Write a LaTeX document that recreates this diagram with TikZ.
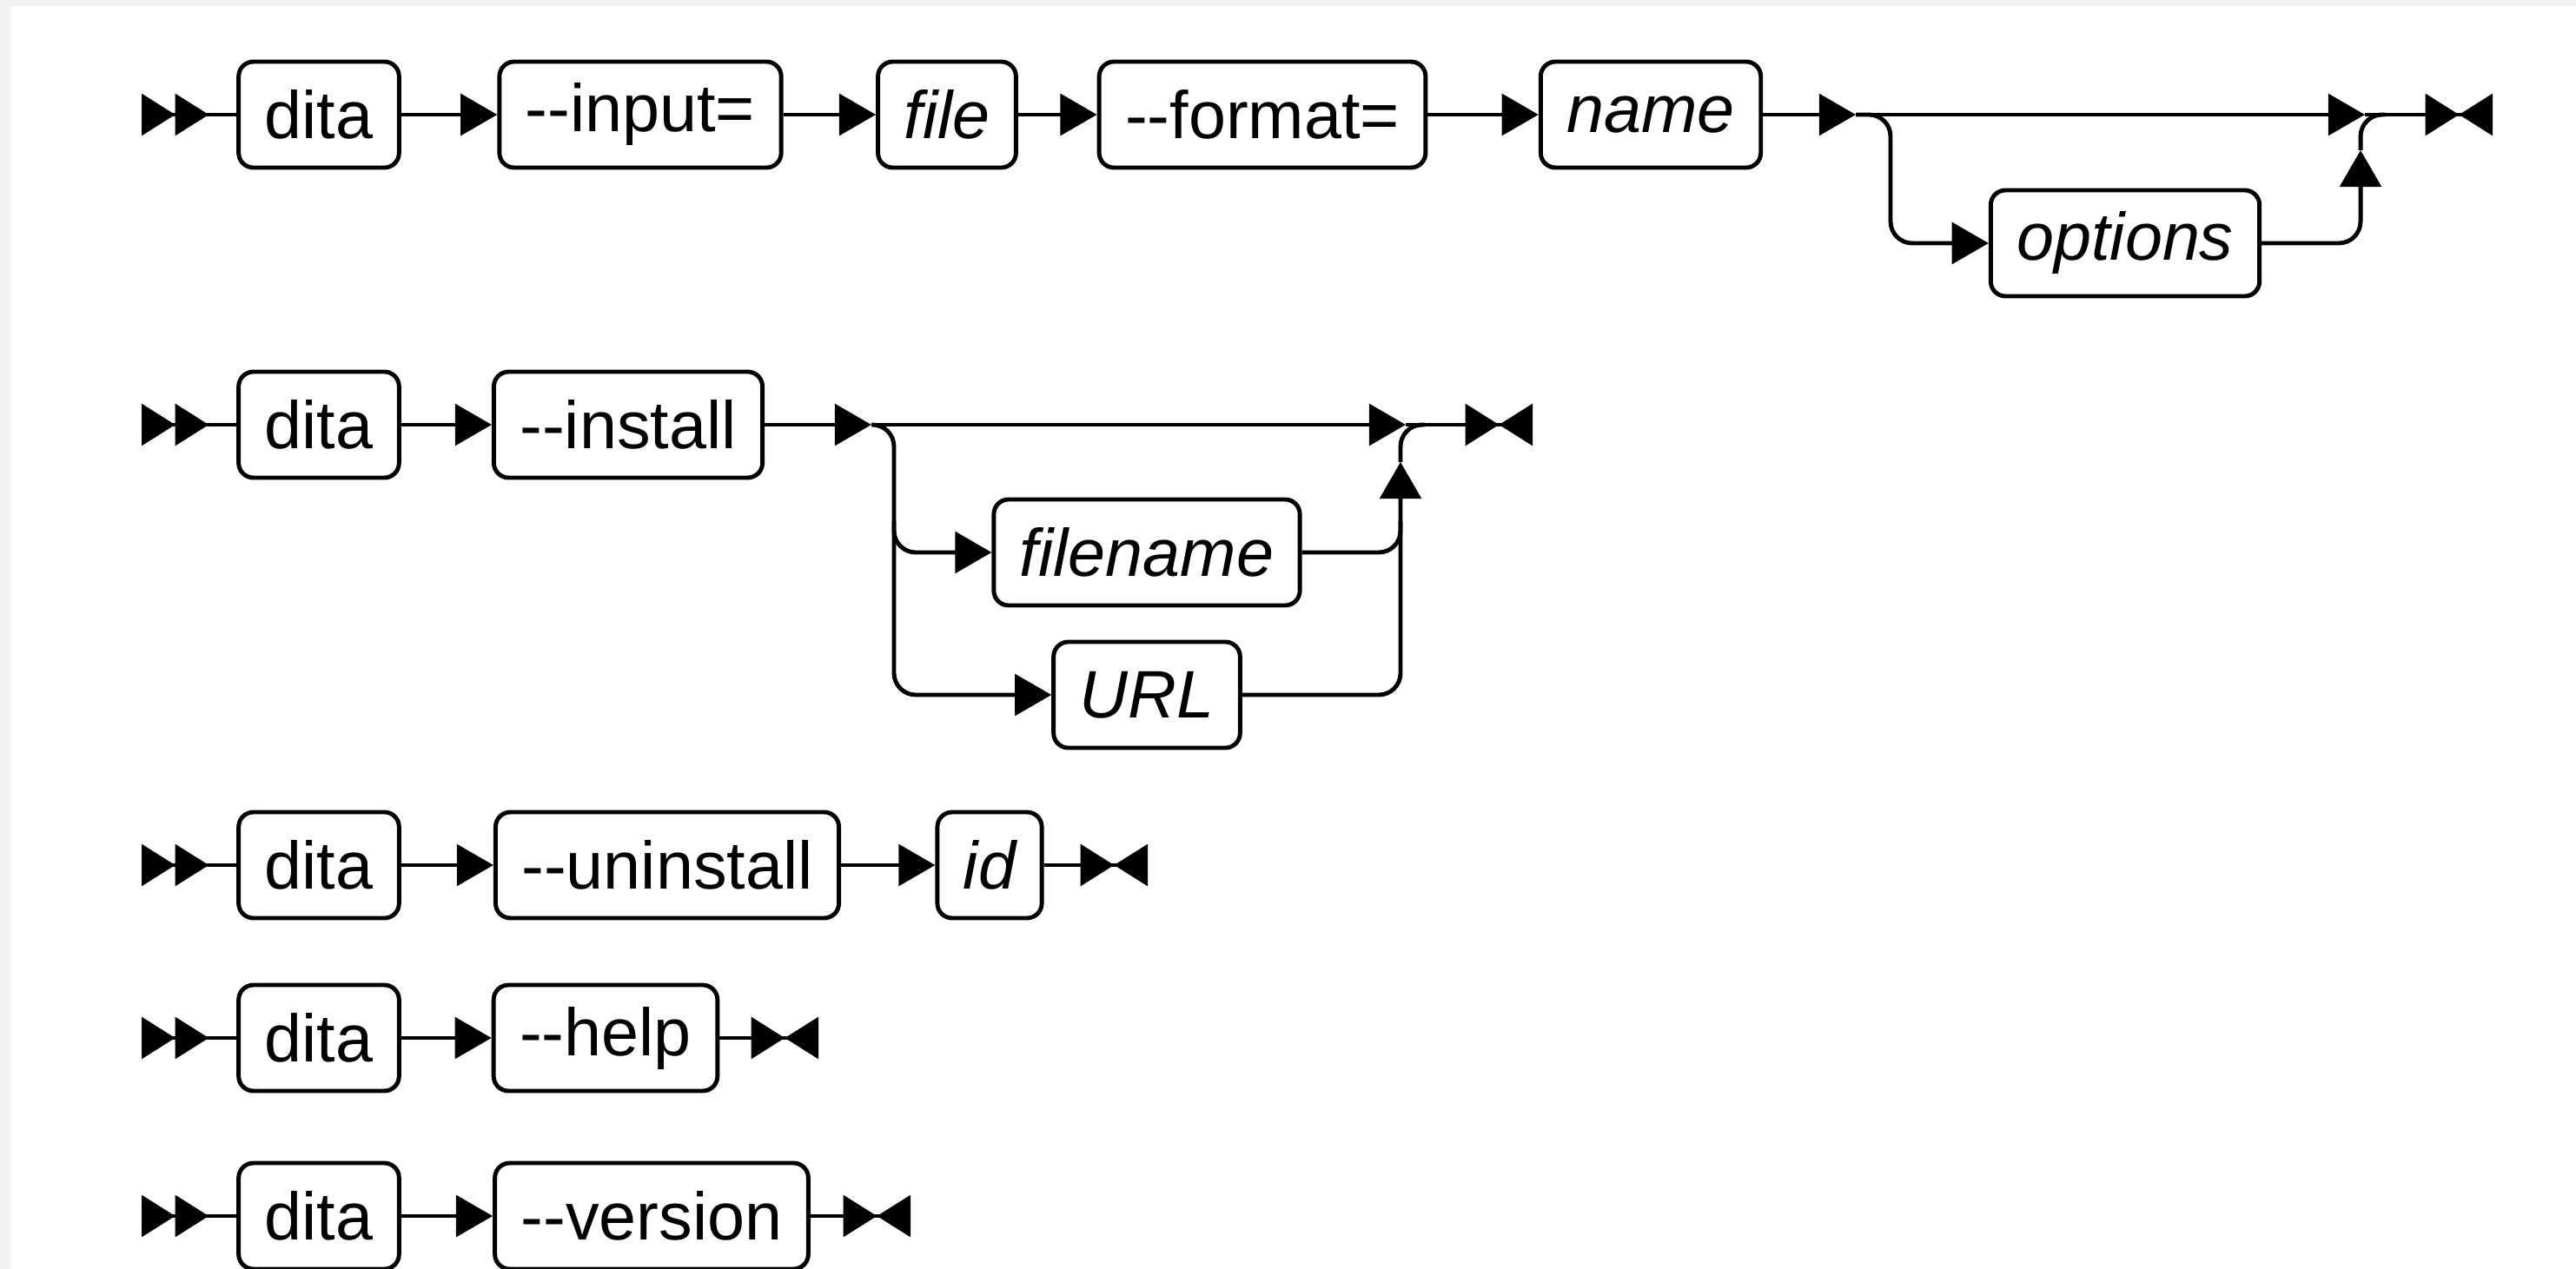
\documentclass[tikz,border=0pt]{standalone}
\usepackage{fontspec}
\setmainfont{Liberation Sans}
\usetikzlibrary{arrows.meta}
\tikzset{
  box/.style={draw, line width=1.4pt, rounded corners=0.17cm, minimum height=1.22cm, inner xsep=0.3cm, fill=white, font=\fontsize{22}{26}\selectfont},
  var/.style={box, font=\fontsize{22}{26}\selectfont\itshape},
  track/.style={line width=1.4pt},
  into/.style={track, -{Triangle[length=12pt,width=13.5pt]}},
  startmark/.style={track, {Triangle[reversed,length=11pt,width=13.5pt]Triangle[reversed,length=11pt,width=13.5pt]}-},
  endmark/.style={track, -{Triangle[length=11pt,width=13.5pt]Triangle[reversed,length=11pt,width=13.5pt]}},
  roundturn/.style={rounded corners=0.25cm},
}
\begin{document}
\begin{tikzpicture}
\fill[black!5] (0,0) rectangle (29.65,-14.61);
\fill[white] (0.13,-0.07) rectangle (29.65,-14.61);
\useasboundingbox (0,0) rectangle (29.65,-14.61);

% dita --input= file --format= name [options]
\coordinate (s1) at (1.63,-1.32);
\node[box] (d1) at (3.67,-1.32) {dita};
\node[box] (in1) at (7.37,-1.32) {-{}-input=};
\node[var] (f1) at (10.90,-1.32) {file};
\node[box] (fm1) at (14.53,-1.32) {-{}-format=};
\node[var] (nm1) at (19.00,-1.32) {name};
\node[var] (op1) at (24.46,-2.80) {options};
\coordinate (fork1) at (21.36,-1.32);
\coordinate (join1) at (27.22,-1.32);
\coordinate (up1) at (27.17,-1.73);
\coordinate (e1) at (28.69,-1.32);
\draw[startmark] (s1) -- (d1);
\draw[into] (d1) -- (in1);
\draw[into] (in1) -- (f1);
\draw[into] (f1) -- (fm1);
\draw[into] (fm1) -- (nm1);
\draw[into] (nm1) -- (fork1);
\draw[into] (fork1) -- (join1);
\draw[endmark] (join1) -- (e1);
\draw[into,roundturn] (fork1) -| (21.76,-2.80) -- (op1);
\draw[into,roundturn] (op1) -| (up1);
\draw[track,roundturn] (up1) |- (27.45,-1.32);

% dita --install [filename | URL]
\coordinate (s2) at (1.63,-4.89);
\node[box] (d2) at (3.67,-4.89) {dita};
\node[box] (ins2) at (7.23,-4.89) {-{}-install};
\node[var] (fn2) at (13.20,-6.36) {filename};
\node[var] (url2) at (13.20,-8.00) {URL};
\coordinate (fork2) at (10.03,-4.89);
\coordinate (split2) at (10.29,-6.0);
\coordinate (join2) at (16.18,-4.89);
\coordinate (up2) at (16.12,-5.32);
\coordinate (e2) at (17.64,-4.89);
\draw[startmark] (s2) -- (d2);
\draw[into] (d2) -- (ins2);
\draw[into] (ins2) -- (fork2);
\draw[into] (fork2) -- (join2);
\draw[endmark] (join2) -- (e2);
\draw[into,roundturn] (fork2) -| (10.29,-8.00) -- (url2);
\draw[into,roundturn] (split2) |- (fn2);
\draw[into,roundturn] (fn2) -| (up2);
\draw[track,roundturn] (url2) -| (16.12,-6.0);
\draw[track,roundturn] (up2) |- (16.40,-4.89);

% dita --uninstall id
\coordinate (s3) at (1.63,-9.96);
\node[box] (d3) at (3.67,-9.96) {dita};
\node[box] (un3) at (7.68,-9.96) {-{}-uninstall};
\node[var] (id3) at (11.39,-9.96) {id};
\coordinate (e3) at (13.21,-9.96);
\draw[startmark] (s3) -- (d3);
\draw[into] (d3) -- (un3);
\draw[into] (un3) -- (id3);
\draw[endmark] (id3) -- (e3);

% dita --help
\coordinate (s4) at (1.63,-11.95);
\node[box] (d4) at (3.67,-11.95) {dita};
\node[box] (hp4) at (6.97,-11.95) {-{}-help};
\coordinate (e4) at (9.42,-11.95);
\draw[startmark] (s4) -- (d4);
\draw[into] (d4) -- (hp4);
\draw[endmark] (hp4) -- (e4);

% dita --version
\coordinate (s5) at (1.63,-14.00);
\node[box] (d5) at (3.67,-14.00) {dita};
\node[box] (vs5) at (7.50,-14.00) {-{}-version};
\coordinate (e5) at (10.48,-14.00);
\draw[startmark] (s5) -- (d5);
\draw[into] (d5) -- (vs5);
\draw[endmark] (vs5) -- (e5);
\end{tikzpicture}
\end{document}
